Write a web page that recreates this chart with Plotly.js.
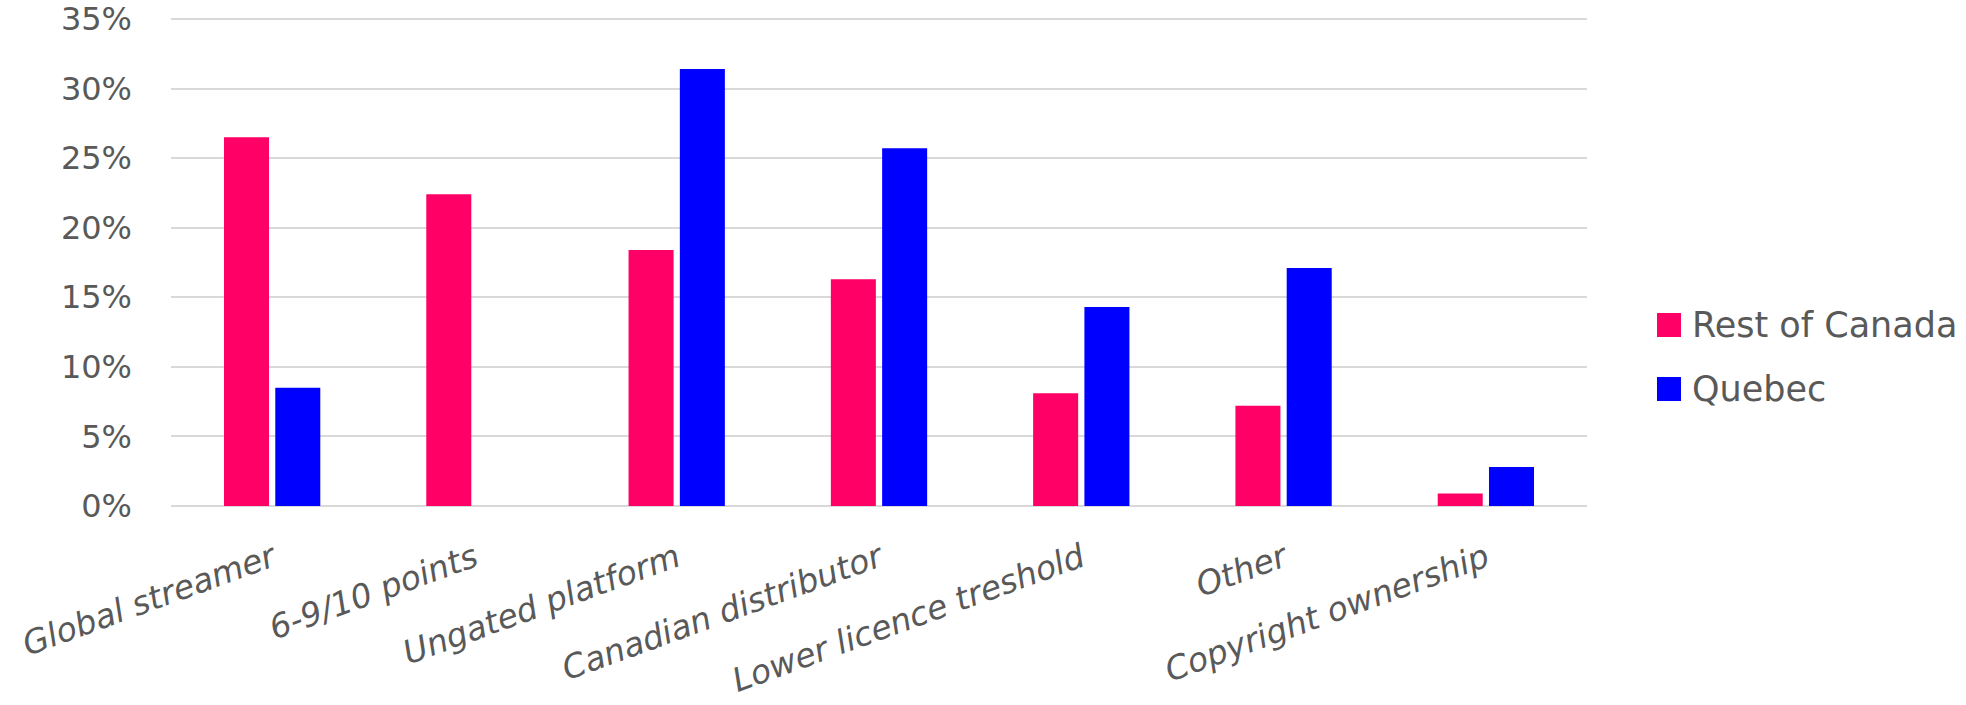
<!DOCTYPE html>
<html>
<head>
<meta charset="utf-8">
<script src="https://cdn.plot.ly/plotly-3.0.1.min.js"></script>
<style>
  html, body { margin: 0; padding: 0; background: #ffffff; }
  #chart { width: 1966px; height: 705px; }
</style>
</head>
<body>
<div id="chart"></div>
<script>
// ---- Data ----
const categories = [
  "Global streamer",
  "6-9/10 points",
  "Ungated platform",
  "Canadian distributor",
  "Lower licence treshold",
  "Other",
  "Copyright ownership"
];
const seriesNames = ["Rest of Canada", "Quebec"];
const restOfCanada = [26.5, 22.4, 18.4, 16.3, 8.1, 7.2, 0.9];
const quebec = [8.5, null, 31.4, 25.7, 14.3, 17.1, 2.8];
const yTickValues = [0, 5, 10, 15, 20, 25, 30, 35];
const yTickLabels = ["0%", "5%", "10%", "15%", "20%", "25%", "30%", "35%"];

// ---- Styling ----
const colors = ["#FF0066", "#0000FF"];
const textColor = "#595959";
const fontFamily = "DejaVu Sans, Arial, sans-serif";
const W = 1966, H = 705;
const margin = { l: 171, r: 379, t: 12, b: 199 };
const plotW = W - margin.l - margin.r;
const plotH = H - margin.t - margin.b;
const px2paperX = (px) => (px - margin.l) / plotW;
const px2paperY = (py) => (H - margin.b - py) / plotH;

const traces = [
  {
    type: "bar",
    name: seriesNames[0],
    x: categories,
    y: restOfCanada,
    marker: { color: colors[0] },
    showlegend: false,
    hoverinfo: "x+y+name"
  },
  {
    type: "bar",
    name: seriesNames[1],
    x: categories,
    y: quebec,
    marker: { color: colors[1] },
    showlegend: false,
    hoverinfo: "x+y+name"
  }
];

// Manual legend (large square swatches, as in the reference)
const legendRows = [325, 389];
const swatch = 24;
const shapes = [];
const annotations = [];
seriesNames.forEach((nm, i) => {
  const cy = legendRows[i];
  shapes.push({
    type: "rect", xref: "paper", yref: "paper",
    x0: px2paperX(1657), x1: px2paperX(1657 + swatch),
    y0: px2paperY(cy + swatch / 2), y1: px2paperY(cy - swatch / 2),
    fillcolor: colors[i], line: { width: 0 }
  });
  annotations.push({
    xref: "paper", yref: "paper",
    x: px2paperX(1690), y: px2paperY(cy),
    xanchor: "left", yanchor: "middle",
    text: nm, showarrow: false,
    font: { family: fontFamily, size: 35, color: textColor }
  });
});

const layout = {
  width: W,
  height: H,
  margin: margin,
  paper_bgcolor: "#ffffff",
  plot_bgcolor: "#ffffff",
  barmode: "group",
  bargap: 0.493,
  bargroupgap: 0.122,
  showlegend: false,
  font: { family: fontFamily, color: textColor },
  xaxis: {
    type: "category",
    tickangle: -20,
    tickfont: { family: fontFamily, size: 33, color: textColor, style: "italic" },
    showgrid: false,
    showline: false,
    ticks: "",
    ticklabelstandoff: 26,
    automargin: false
  },
  yaxis: {
    range: [0, 35.5],
    tickmode: "array",
    tickvals: yTickValues,
    ticktext: yTickLabels,
    tickfont: { family: fontFamily, size: 32, color: textColor },
    showgrid: true,
    gridcolor: "#d9d9d9",
    gridwidth: 2,
    zeroline: true,
    zerolinecolor: "#d9d9d9",
    zerolinewidth: 2,
    showline: false,
    ticks: "",
    ticklabelstandoff: 38,
    automargin: false
  },
  shapes: shapes,
  annotations: annotations
};

Plotly.newPlot("chart", traces, layout, { displayModeBar: false, staticPlot: true });
</script>
</body>
</html>
